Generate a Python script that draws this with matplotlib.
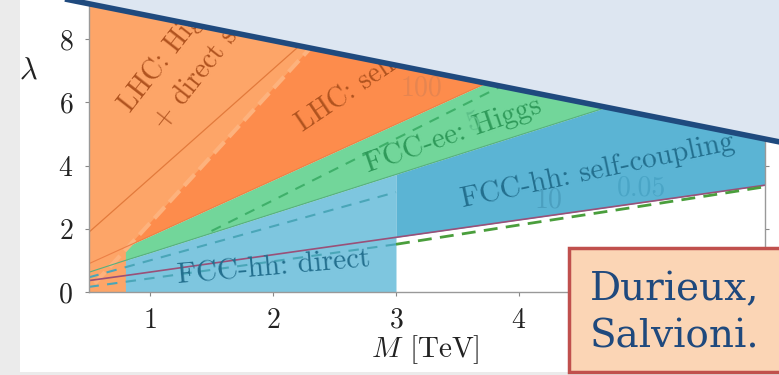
import numpy as np
import matplotlib
matplotlib.use("Agg")
import matplotlib.pyplot as plt
from matplotlib.patches import Polygon, Rectangle

plt.rcParams['font.family'] = 'cmr10'
plt.rcParams['mathtext.fontset'] = 'cm'
plt.rcParams['axes.formatter.use_mathtext'] = True

# boundaries, lambda vs M [TeV]
M = [0.5, 0.8, 1.0, 2.0, 3.0, 4.0, 5.0, 6.0]
ee_upper = [0.89, 1.42, 1.77, 3.54, 5.31, 7.08, 8.85, 10.62]
ee_lower = [0.62, 1.00, 1.24, 2.48, 3.72, 4.96, 6.20, 7.44]
hh_lower = [0.36, 0.52, 0.63, 1.18, 1.73, 2.28, 2.83, 3.38]

# LHC self-coupling wedge
M_lhc = [0.835, 1.0, 2.0, 3.0, 6.0]
lhc_lo = [1.48, 1.77, 3.54, 5.31, 10.62]
lhc_hi = [1.48, 2.18, 6.43, 10.68, 23.43]

# FCC-hh direct reach (M < 3 TeV)
M_direct = [0.8, 1.0, 2.0, 3.0]
direct_hi = [1.00, 1.24, 2.48, 3.72]

# FCC-hh self-coupling (M > 3 TeV)
M_sc = [3.0, 4.0, 5.0, 6.0]
sc_lo = [1.73, 2.28, 2.83, 3.38]
sc_hi = [3.72, 4.96, 6.20, 7.44]

# extra contour lines
M_line = [0.5, 1.0, 2.0, 3.0]
lhc_higgs_line = [1.88, 3.60, 7.05, 10.50]
M_edge = [0.55, 1.0, 2.0, 3.0]
lhc_edge = [0.27, 2.18, 6.43, 10.68]
M_eedash = [1.5, 2.0, 3.0, 3.9]
ee_dash = [1.93, 2.90, 4.85, 6.60]
teal_dash1 = [0.46, 1.00, 2.08, 3.16]
teal_dash2 = [0.16, 0.43, 0.97, 1.51]
green_dash = [1.51, 2.12, 2.72, 3.33]

c_lorange = '#fda568'
c_dorange = '#fd8c4c'
c_green = '#72d69a'
c_lblue = '#7ec6df'
c_dblue = '#5bb4d4'

fig = plt.figure(figsize=(7.79, 3.75), dpi=100)
fig.patch.set_facecolor('#ebebeb')

# slide background (pixel coordinates)
bg = fig.add_axes([0, 0, 1, 1], zorder=0)
bg.set_xlim(0, 779)
bg.set_ylim(375, 0)
bg.axis('off')
bg.add_patch(Rectangle((20, -5), 770, 377, facecolor='white', edgecolor='none'))

ax = fig.add_axes([88.5/779, 1 - 292/375, 676.5/779, 293.9/375], zorder=1)
ax.set_facecolor('white')

ax.fill_between([0.5, 0.82], 0, 12, color=c_lorange, lw=0, zorder=1)
ax.fill_between(M, ee_upper, 12, color=c_lorange, lw=0, zorder=1)
ax.fill_between(M_lhc, lhc_lo, lhc_hi, color=c_dorange, lw=0, zorder=1)
ax.fill_between(M[1:], ee_lower[1:], ee_upper[1:], color=c_green, lw=0, zorder=1)
ax.fill_between(M_direct, 0, direct_hi, color=c_lblue, lw=0, zorder=1)
ax.fill_between(M_sc, sc_lo, sc_hi, color=c_dblue, lw=0, zorder=1)

# contour lines
ax.plot(M_line, lhc_higgs_line, color='#e27a3c', lw=0.9, zorder=2)
ax.plot(M_edge, lhc_edge, '--', color='#fdb27d', lw=3, zorder=2)
ax.plot(M, ee_upper, color='#ec8046', lw=0.8, zorder=2)
ax.plot(M, ee_lower, color='#58b07e', lw=0.8, zorder=2)
ax.plot(M, hh_lower, color='#9a5078', lw=1.2, zorder=2)
ax.plot(M_eedash, ee_dash, '--', color='#3fb06a', lw=1.5, dashes=(5, 4), zorder=2)
ax.plot(M_line, teal_dash1, '--', color='#4aa6b8', lw=1.5, dashes=(5, 4), zorder=2)
ax.plot(M_line, teal_dash2, '--', color='#4aa6b8', lw=1.5, dashes=(5, 4), zorder=2)
ax.plot(M_sc, green_dash, '--', color='#4a9e3c', lw=2, dashes=(5, 3), zorder=2)

# region labels
ax.text(0.84, 5.66, 'LHC: Higgs', rotation=52, rotation_mode='anchor', ha='left',
        va='baseline', fontsize=20, color='#b0531f', zorder=3)
ax.text(1.12, 5.10, '+ direct searches', rotation=52, rotation_mode='anchor', ha='left',
        va='baseline', fontsize=20, color='#b0531f', zorder=3)
ax.text(2.24, 5.06, 'LHC: self-coupling', rotation=34, rotation_mode='anchor', ha='left',
        va='baseline', fontsize=20, color='#b0531f', zorder=3)
ax.text(3.21, 6.45, '100', ha='center', va='center', fontsize=20, color='#e68550', zorder=3)
ax.text(2.77, 3.80, 'FCC-ee: Higgs', rotation=19, rotation_mode='anchor', ha='left',
        va='baseline', fontsize=21, color='#2f9a5a', zorder=3)
ax.text(3.63, 5.40, '5', rotation=19, ha='center', va='center', fontsize=20,
        color='#5cc088', zorder=3)
ax.text(3.54, 2.69, 'FCC-hh: self-coupling', rotation=12, rotation_mode='anchor', ha='left',
        va='baseline', fontsize=21, color='#236f8e', zorder=3)
ax.text(4.24, 2.90, '10', ha='center', va='center', fontsize=20, color='#4b9fbf', zorder=3)
ax.text(5.00, 3.29, '0.05', ha='center', va='center', fontsize=20, color='#4aa5c6', zorder=3)
ax.text(1.23, 0.28, 'FCC-hh: direct', rotation=5, rotation_mode='anchor', ha='left',
        va='baseline', fontsize=21, color='#236f8e', zorder=3)

ax.set_xlim(0.5, 6)
ax.set_ylim(0, 9.3)
# the tick at 5 sits under the reference box, so only 1-4 are shown
ax.set_xticks([1, 2, 3, 4])
ax.set_yticks([0, 2, 4, 6, 8])
ax.tick_params(direction='out', length=3, width=0.8, color='#888888', labelsize=20,
               labelcolor='#222222', right=True)
ax.tick_params(axis='x', pad=8)
ax.tick_params(axis='y', pad=8)
for s in ax.spines.values():
    s.set_color('#999999')
    s.set_linewidth(1)
ax.spines['top'].set_visible(False)

ax.set_xlabel('$M$ [TeV]', fontsize=21, color='#222222')
ax.xaxis.set_label_coords(0.4975, -0.197)
ax.xaxis.label.set_va('center')
ax.set_ylabel('$\\lambda$', fontsize=22, rotation=0, color='#222222')
ax.yaxis.set_label_coords(-0.0894, 0.752)
ax.yaxis.label.set_va('center')
ax.yaxis.label.set_ha('center')

# slide overlay: callout shape and reference box (pixel coordinates)
ov = fig.add_axes([0, 0, 1, 1], zorder=5)
ov.set_xlim(0, 779)
ov.set_ylim(375, 0)
ov.axis('off')
ov.patch.set_alpha(0)
ov.add_patch(Polygon([(40, -6), (790, 144), (790, -20), (40, -20)], closed=True,
                     facecolor='#dde6f1', edgecolor='none'))
ov.plot([40, 790], [-6, 144], color='#1f4a7e', lw=4, solid_capstyle='butt')
ov.add_patch(Rectangle((569, 248), 230, 124, facecolor='#fbd5b5', edgecolor='#c0504d', lw=2.5))
ov.text(590, 300, 'Durieux,', fontsize=28, family='DejaVu Serif', color='#1f497d', va='baseline')
ov.text(590, 347, 'Salvioni.', fontsize=28, family='DejaVu Serif', color='#1f497d', va='baseline')

plt.savefig("out.png", dpi=100)
